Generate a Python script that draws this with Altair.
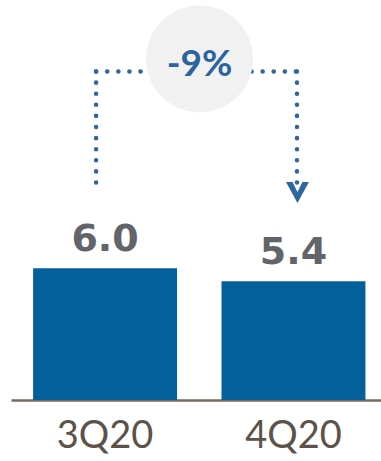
import altair as alt
import pandas as pd

# --- data ---
categories = ["3Q20", "4Q20"]
values = [6.0, 5.4]
change_text = ["-9%"]
# connector levels (data units of the value axis)
connector_top = [14.95]
left_bottom = [9.5]
right_bottom = [9.7]
arrow_level = [9.44]
bubble_level = [15.52]

bars_df = pd.DataFrame({"cat": categories, "val": values,
                        "lbl": [f"{v:.1f}" for v in values]})
left_df = pd.DataFrame({"cat": [categories[0]], "y": connector_top, "y2": left_bottom})
right_df = pd.DataFrame({"cat": [categories[1]], "y": connector_top, "y2": right_bottom})
horiz_df = pd.DataFrame({"cat": [categories[0]], "cat2": [categories[1]], "y": connector_top})
arrow_df = pd.DataFrame({"cat": [categories[1]], "y": arrow_level})
bubble_df = pd.DataFrame({"cat": [categories[0]], "y": bubble_level, "t": change_text})

BAR = "#03609a"
DOT = "#2e66a0"

xscale = alt.Scale(domain=categories, paddingInner=0.236, paddingOuter=0.1, align=0.587)
yscale = alt.Scale(domain=[0, 18.2], nice=False, zero=True)

X = alt.X("cat:N", scale=xscale, sort=categories,
          axis=alt.Axis(title=None, ticks=False, labelAngle=0, labelFont="Lato",
                        labelFontSize=38, labelColor="#5c5249", labelPadding=17,
                        labelBaseline="top", domainColor="#746a60", domainWidth=2.5,
                        grid=False))

bars = alt.Chart(bars_df).mark_bar(color=BAR).encode(
    x=X, y=alt.Y("val:Q", scale=yscale, axis=None))

labels = alt.Chart(bars_df).mark_text(font="DejaVu Sans", fontWeight="bold", fontSize=38,
                                      color="#626469", dy=-17, baseline="alphabetic").encode(
    x=alt.X("cat:N", scale=xscale, sort=categories),
    y=alt.Y("val:Q", scale=yscale), text="lbl:N")

dot_style = dict(color=DOT, strokeWidth=4.5, strokeCap="round", strokeDash=[0.1, 11])

left_line = alt.Chart(left_df).mark_rule(xOffset=-9, **dot_style).encode(
    x=alt.X("cat:N", scale=xscale, sort=categories),
    y=alt.Y("y:Q", scale=yscale), y2="y2:Q")

right_line = alt.Chart(right_df).mark_rule(xOffset=3.5, **dot_style).encode(
    x=alt.X("cat:N", scale=xscale, sort=categories),
    y=alt.Y("y:Q", scale=yscale), y2="y2:Q")

horiz_line = alt.Chart(horiz_df).mark_rule(xOffset=-9, x2Offset=3.5, **dot_style).encode(
    x=alt.X("cat:N", scale=xscale, sort=categories), x2="cat2:N",
    y=alt.Y("y:Q", scale=yscale))

arrow = alt.Chart(arrow_df).mark_point(
    shape="M-1,-0.91L0,0.91L1,-0.91L0.43,-0.91L0,-0.04L-0.43,-0.91Z",
    filled=True, color=DOT, size=529, xOffset=4, opacity=1, strokeWidth=0).encode(
    x=alt.X("cat:N", scale=xscale, sort=categories),
    y=alt.Y("y:Q", scale=yscale))

bubble = alt.Chart(bubble_df).mark_point(
    shape="circle", filled=True, color="#f1f1f1", size=11450, opacity=1,
    xOffset=94.5, strokeWidth=0).encode(
    x=alt.X("cat:N", scale=xscale, sort=categories),
    y=alt.Y("y:Q", scale=yscale))

bubble_text = alt.Chart(bubble_df).mark_text(
    font="Lato", fontWeight="bold", fontSize=37, color="#2a64a0",
    xOffset=94.5, dy=17, baseline="alphabetic").encode(
    x=alt.X("cat:N", scale=xscale, sort=categories),
    y=alt.Y("y:Q", scale=yscale), text="t:N")

chart = alt.layer(bars, labels, left_line, right_line, horiz_line, arrow, bubble,
                  bubble_text).properties(
    width=370, height=400,
    autosize=alt.AutoSizeParams(type="none"),
    padding={"left": 11, "top": 0, "right": 0, "bottom": 61},
    background="white",
).configure_view(stroke=None)

chart.save("out.html", embed_options={"renderer": "svg", "actions": False})
